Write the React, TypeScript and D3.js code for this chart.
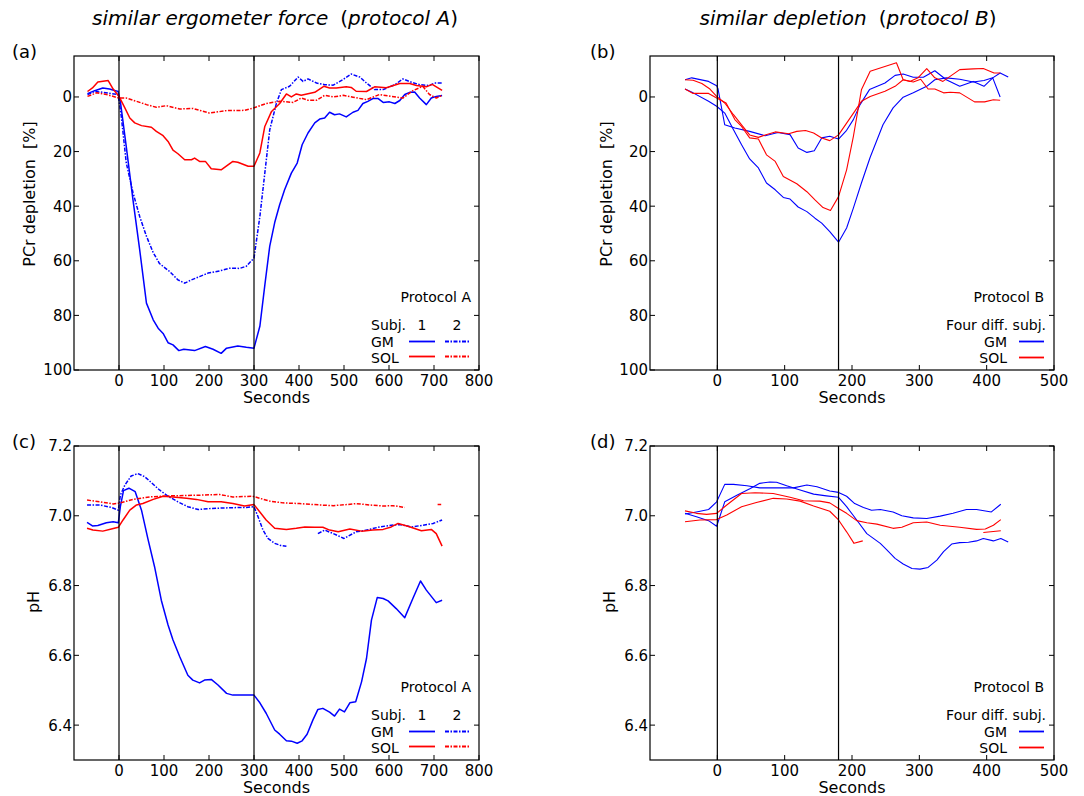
import * as d3 from "d3";

type Pt = [number, number | null];

// ---- PCr depletion [%], protocol A (similar ergometer force) ----
const pcrA_GM1: Pt[] = [[-70,-1.2],[-54,-2.3],[-36,-3.3],[-21,-2.9],[-10,-2.4],[-2,-2],[3,1.6],[16,18],[31,37.6],[46,56],[61,75.5],[76,81.6],[87,84.7],[98,86.6],[109,90],[120,90.8],[133,92.9],[144,92.4],[168,92.9],[192,91.4],[209,92.4],[227,93.9],[239,92],[264,91.2],[283,91.7],[300,92],[313,84],[324,69],[335,54.6],[346,46],[357,39.5],[368,34],[383,27.9],[396,24.2],[407,17.5],[420,13.2],[435,9.5],[446,8.1],[457,7.7],[468,5.6],[479,6.5],[490,6.2],[505,7.3],[520,5.6],[531,4.9],[542,2.4],[553,1.6],[564,0.6],[576,0.6],[587,2],[601,1.8],[613,2.4],[624,1.3],[635,-0.9],[646,-1.7],[657,-1.8],[668,0.4],[683,2.8],[694,0.4],[705,-0.2],[718,-0.5]];
const pcrA_GM2: Pt[] = [[-70,-0.9],[-54,-2],[-36,-1.7],[-17,-1.2],[-2,-0.9],[5,7],[16,24],[31,35],[46,43.8],[61,51],[76,57],[90,61],[113,64],[131,67],[146,68.2],[161,67],[179,65.8],[198,64.5],[224,63.7],[246,62.7],[268,62.8],[283,62],[300,59],[313,43.8],[324,27.9],[335,12],[350,2.2],[361,-2.7],[379,-3.9],[398,-7.3],[409,-5.7],[420,-6.6],[439,-5.1],[457,-4.5],[476,-4.3],[498,-6.4],[516,-8.4],[535,-7.3],[550,-5.1],[568,-2.7],[587,-2.7],[613,-4.5],[631,-6.6],[650,-5.4],[668,-4.5],[690,-4.2],[701,-5.1],[718,-5.1]];
const pcrA_SOL1: Pt[] = [[-70,-2],[-59,-3.3],[-47,-5.5],[-24,-6],[-13,-2.9],[0,-0.2],[13,4],[24,7.7],[35,9.5],[50,10.5],[72,11.1],[83,12.6],[98,14.2],[109,16.3],[120,19.5],[131,20.8],[146,23],[161,23],[168,22.4],[179,23.6],[192,23.6],[205,26.3],[227,26.7],[253,23.6],[264,23.9],[287,25.4],[300,25.4],[313,20.5],[324,10.8],[339,5.3],[357,2.4],[372,-1.1],[383,0],[394,-1.1],[405,-0.6],[420,-1.2],[435,-1.7],[455,-3.9],[468,-3.3],[483,-3.3],[505,-3.7],[516,-3.5],[527,-2.1],[550,-2],[568,-3.7],[594,-3.4],[624,-4.9],[646,-4.9],[661,-4.2],[683,-3.7],[696,-4.6],[718,-2.4]];
const pcrA_SOL2: Pt[] = [[-70,-0.2],[-50,-1.5],[-28,-0.9],[0,0.4],[16,0.4],[39,1.6],[61,2.8],[83,3.8],[105,3.2],[135,4.4],[164,4.2],[201,5.9],[239,5],[279,4.9],[300,4],[327,2.4],[357,1.6],[387,2],[405,0.4],[420,1.2],[439,1.2],[457,-0.6],[476,0],[498,-0.6],[520,0.1],[550,1],[579,-0.9],[605,-0.2],[631,0.4],[653,-2.3],[675,-3.9],[690,-0.9],[705,0.4],[718,-0.6]];

// ---- PCr depletion [%], protocol B (similar depletion) ----
const pcrB_GM1: Pt[] = [[-48,-6.3],[-38,-7],[-13,-5.7],[-1,-4.1],[1,-3],[11,10.2],[26,11.4],[48,12.6],[71,14.2],[90,13],[108,13.8],[120,18.7],[133,20.3],[144,19.7],[155,15],[167,14.4],[180,15.4],[192,12.2],[202,8.3],[212,2.8],[226,-2.7],[249,-5.1],[264,-7.9],[276,-8.4],[291,-7.2],[306,-7.2],[323,-9.6],[340,-6.3],[360,-3.9],[380,-5.7],[396,-3.9],[409,-7],[420,0]];
const pcrB_GM2: Pt[] = [[-48,-2.9],[-36,-1.5],[-13,1.6],[-1,3.4],[11,5.9],[24,12],[36,17.5],[48,22.7],[61,26],[73,31.5],[86,34],[98,36.8],[108,37.4],[120,40.3],[133,42],[145,44.4],[155,46.2],[167,49.3],[180,53.2],[192,48],[202,40.7],[214,31.5],[227,22.1],[246,10.2],[261,4],[276,0.1],[291,-1.5],[311,-3.9],[323,-6.3],[340,-7],[360,-6.5],[380,-5.5],[396,-6],[409,-7],[420,-8.8],[432,-7.3]];
const pcrB_SOL1: Pt[] = [[-48,-6.3],[-36,-6.1],[-23,-4.9],[-11,-2.9],[-1,-0.2],[11,2.2],[24,6.5],[36,10.2],[48,13.9],[61,14.8],[71,13.9],[86,12.8],[106,13.5],[118,12.6],[131,12.3],[143,13.2],[155,15],[167,16],[180,13.9],[192,9.6],[204,5.3],[214,1.6],[227,-0.2],[249,-2.1],[264,-3.9],[276,-6.3],[286,-5.7],[298,-7],[311,-10.4],[323,-7],[335,-5.7],[360,-10],[380,-10.3],[395,-10.4],[411,-8.8],[420,-8.8]];
const pcrB_SOL2: Pt[] = [[-48,-2.9],[-36,-1.3],[-13,-1.3],[-1,0.4],[13,2.2],[26,8.3],[36,10.8],[48,15],[61,15.4],[73,21.2],[86,23.6],[98,29.1],[118,31.8],[133,34.7],[145,37.7],[157,40.5],[168,41.6],[180,36.5],[192,26.7],[202,14.5],[214,-2.6],[227,-9.4],[266,-12.5],[276,-6.3],[291,-5.5],[302,-6.5],[313,-2.9],[323,-2.9],[336,-1.5],[346,-1.7],[360,-1.5],[382,1.8],[397,1.8],[410,1],[420,1.2]];

// ---- pH, protocol A ----
const phA_GM1: Pt[] = [[-71,6.981],[-59,6.971],[-47,6.972],[-28,6.98],[-13,6.983],[-1.5,6.98],[3,7.026],[10,7.072],[22,7.079],[36,7.069],[50,7.016],[64,6.935],[79,6.854],[94,6.758],[109,6.687],[120,6.644],[135,6.596],[153,6.543],[164,6.529],[179,6.521],[190,6.529],[205,6.531],[220,6.515],[239,6.491],[253,6.486],[300,6.486],[313,6.464],[327,6.434],[346,6.386],[357,6.374],[372,6.355],[383,6.354],[396,6.348],[407,6.355],[418,6.374],[431,6.415],[442,6.445],[453,6.448],[468,6.437],[479,6.426],[490,6.446],[501,6.438],[513,6.464],[526,6.467],[539,6.524],[550,6.591],[561,6.701],[574,6.766],[587,6.763],[598,6.756],[616,6.734],[635,6.708],[653,6.763],[670,6.813],[683,6.787],[705,6.751],[718,6.758]];
const phA_GM2: Pt[] = [[-71,7.031],[-43,7.031],[-17,7.024],[-1.5,7.016],[3,7.059],[13,7.088],[27,7.114],[42,7.121],[57,7.112],[72,7.095],[90,7.074],[109,7.056],[131,7.04],[153,7.026],[176,7.018],[205,7.021],[246,7.023],[283,7.024],[300,7.026],[309,6.997],[320,6.959],[331,6.935],[346,6.921],[359,6.915],[372,6.913],[405,null],[442,6.949],[457,6.959],[476,6.949],[500,6.935],[527,6.954],[550,6.959],[579,6.968],[605,6.973],[624,6.975],[650,6.968],[676,6.973],[698,6.978],[718,6.988]];
const phA_SOL1: Pt[] = [[-71,6.964],[-58,6.959],[-36,6.956],[-17,6.962],[-1.5,6.967],[9,6.988],[24,7.016],[39,7.031],[53,7.035],[76,7.047],[98,7.056],[120,7.054],[150,7.05],[172,7.047],[198,7.04],[227,7.04],[253,7.035],[279,7.028],[300,7.032],[313,7.011],[327,6.988],[346,6.964],[372,6.961],[394,6.964],[413,6.968],[435,6.967],[453,6.967],[468,6.959],[487,6.954],[513,6.962],[539,6.956],[564,6.959],[587,6.961],[605,6.968],[620,6.978],[642,6.97],[672,6.957],[694,6.961],[705,6.949],[718,6.913]];
const phA_SOL2: Pt[] = [[-71,7.045],[-43,7.04],[-13,7.034],[0,7.036],[31,7.047],[68,7.054],[113,7.057],[179,7.059],[224,7.061],[253,7.054],[297,7.056],[335,7.042],[364,7.037],[401,7.035],[446,7.031],[476,7.029],[505,7.032],[527,7.035],[557,7.031],[587,7.028],[609,7.029],[635,7.024],[670,null],[708,7.032],[716,7.032]];

// ---- pH, protocol B ----
const phB_GM1: Pt[] = [[-48,7.005],[-31,7.011],[-13,7.018],[-1,7.04],[11,7.09],[24,7.09],[44,7.086],[63,7.08],[93,7.08],[113,7.08],[133,7.088],[148,7.083],[167,7.071],[180,7.067],[192,7.056],[204,7.035],[217,7.024],[229,7.016],[242,7.018],[261,7.011],[274,7],[291,6.994],[311,6.992],[331,6.999],[350,7.007],[370,7.018],[385,7.018],[407,7.011],[421,7.033]];
const phB_GM2: Pt[] = [[-48,7.007],[-31,6.997],[-13,6.986],[-1,6.97],[11,7.04],[29,7.059],[49,7.078],[63,7.093],[78,7.097],[88,7.096],[103,7.086],[123,7.074],[143,7.062],[162,7.057],[180,7.053],[192,7.026],[207,6.988],[222,6.949],[242,6.921],[251,6.904],[264,6.878],[276,6.862],[289,6.849],[301,6.847],[313,6.852],[326,6.873],[336,6.897],[348,6.919],[360,6.923],[373,6.924],[385,6.928],[395,6.935],[410,6.928],[421,6.935],[432,6.925]];
const phB_SOL1: Pt[] = [[-48,7.014],[-31,7.007],[-16,7.004],[-1,7.007],[14,7.031],[36,7.064],[56,7.066],[83,7.064],[108,7.053],[128,7.043],[152,7.042],[167,7.037],[180,7.021],[192,7.007],[207,6.986],[222,6.98],[237,6.976],[261,6.964],[274,6.967],[291,6.98],[311,6.982],[331,6.973],[360,6.967],[385,6.961],[398,6.962],[410,6.973],[421,6.989]];
const phB_SOL2: Pt[] = [[-48,6.983],[-26,6.988],[-1,6.989],[14,7.002],[36,7.026],[58,7.038],[83,7.05],[103,7.048],[123,7.042],[143,7.028],[167,7.013],[180,6.988],[192,6.954],[203,6.921],[216,6.928],[300,null],[395,6.952],[421,6.957]];

const pcrTicks = [0, 20, 40, 60, 80, 100];
const phTicks = [6.4, 6.6, 6.8, 7.0, 7.2];
const secTicksA = [0, 100, 200, 300, 400, 500, 600, 700, 800];
const secTicksB = [0, 100, 200, 300, 400, 500];

const BLUE = "#0000ff";
const RED = "#ff0000";
const DASHDOT = "4,1.5,1.5,1.5";
const FONT = "DejaVu Sans";

type Series = { data: Pt[]; color: string; dash?: string };

function Panel(props: {
  x0: number; x1: number; y0: number; y1: number;
  xDomain: [number, number]; yDomain: [number, number]; invertY: boolean;
  xTicks: number[]; yTicks: number[]; yFmt: (v: number) => string;
  marks: number[]; series: Series[]; lw: number;
  yLabel: string; yLabelX: number; yLabelY: number;
  letter: string; letterX: number; letterY: number;
}) {
  const { x0, x1, y0, y1 } = props;
  const x = d3.scaleLinear().domain(props.xDomain).range([x0, x1]);
  const y = d3.scaleLinear().domain(props.yDomain).range(props.invertY ? [y0, y1] : [y1, y0]);
  const line = d3.line<Pt>()
    .defined(d => d[1] !== null)
    .x(d => x(d[0]))
    .y(d => y(d[1] as number));
  const tl = 5;
  return (
    <g>
      {props.series.map((s, i) => (
        <path key={i} d={line(s.data) || ""} fill="none" stroke={s.color}
          strokeWidth={props.lw} strokeDasharray={s.dash} strokeLinejoin="round" />
      ))}
      {props.marks.map(m => (
        <line key={m} x1={x(m)} x2={x(m)} y1={y0} y2={y1} stroke="#000" strokeWidth={1.2} />
      ))}
      <rect x={x0} y={y0} width={x1 - x0} height={y1 - y0} fill="none" stroke="#000" strokeWidth={1.2} />
      {props.xTicks.map(t => (
        <g key={"x" + t}>
          <line x1={x(t)} x2={x(t)} y1={y1} y2={y1 - tl} stroke="#000" />
          <line x1={x(t)} x2={x(t)} y1={y0} y2={y0 + tl} stroke="#000" />
          <text x={x(t)} y={y1 + 16} textAnchor="middle" fontSize={15}>{t}</text>
        </g>
      ))}
      {props.yTicks.map(t => (
        <g key={"y" + t}>
          <line x1={x0} x2={x0 + tl} y1={y(t)} y2={y(t)} stroke="#000" />
          <line x1={x1} x2={x1 - tl} y1={y(t)} y2={y(t)} stroke="#000" />
          <text x={x0 - 2} y={y(t)} dy="0.36em" textAnchor="end" fontSize={15}>{props.yFmt(t)}</text>
        </g>
      ))}
      <text x={(x0 + x1) / 2} y={y1 + 33} textAnchor="middle" fontSize={16}>Seconds</text>
      <text transform={`translate(${props.yLabelX},${props.yLabelY}) rotate(-90)`} textAnchor="middle"
        fontSize={16} style={{ whiteSpace: "pre" }}>{props.yLabel}</text>
      <text x={props.letterX} y={props.letterY} fontSize={18}>{props.letter}</text>
    </g>
  );
}

function LegendA({ x1, y1 }: { x1: number; y1: number }) {
  return (
    <g fontSize={14}>
      <text x={x1 - 8} y={y1 - 68} textAnchor="end">Protocol A</text>
      <text x={x1 - 108} y={y1 - 40}>Subj.</text>
      <text x={x1 - 57} y={y1 - 40} textAnchor="middle">1</text>
      <text x={x1 - 22} y={y1 - 40} textAnchor="middle">2</text>
      <text x={x1 - 108} y={y1 - 23}>GM</text>
      <text x={x1 - 108} y={y1 - 7}>SOL</text>
      <line x1={x1 - 70} x2={x1 - 44} y1={y1 - 28.5} y2={y1 - 28.5} stroke={BLUE} strokeWidth={1.8} />
      <line x1={x1 - 34} x2={x1 - 9} y1={y1 - 28.5} y2={y1 - 28.5} stroke={BLUE} strokeWidth={1.8} strokeDasharray={DASHDOT} />
      <line x1={x1 - 70} x2={x1 - 44} y1={y1 - 13.5} y2={y1 - 13.5} stroke={RED} strokeWidth={1.8} />
      <line x1={x1 - 34} x2={x1 - 9} y1={y1 - 13.5} y2={y1 - 13.5} stroke={RED} strokeWidth={1.8} strokeDasharray={DASHDOT} />
    </g>
  );
}

function LegendB({ x1, y1 }: { x1: number; y1: number }) {
  return (
    <g fontSize={14}>
      <text x={x1 - 10} y={y1 - 68} textAnchor="end">Protocol B</text>
      <text x={x1 - 8} y={y1 - 40} textAnchor="end">Four diff. subj.</text>
      <text x={x1 - 47} y={y1 - 23} textAnchor="end">GM</text>
      <text x={x1 - 47} y={y1 - 7} textAnchor="end">SOL</text>
      <line x1={x1 - 35} x2={x1 - 10} y1={y1 - 28.5} y2={y1 - 28.5} stroke={BLUE} strokeWidth={1.8} />
      <line x1={x1 - 35} x2={x1 - 10} y1={y1 - 12.5} y2={y1 - 12.5} stroke={RED} strokeWidth={1.8} />
    </g>
  );
}

function Title({ cx, main, proto }: { cx: number; main: string; proto: string }) {
  return (
    <text x={cx} y={25} textAnchor="middle" fontSize={20}>
      <tspan fontStyle="italic">{main}</tspan>
      <tspan dx={12}>(</tspan>
      <tspan fontStyle="italic">{proto}</tspan>
      <tspan>)</tspan>
    </text>
  );
}

export default function App() {
  const fmtInt = d3.format("d");
  const fmtPh = d3.format(".1f");
  const A = { x0: 74, x1: 479 };
  const B = { x0: 650, x1: 1054 };
  const top = { y0: 56, y1: 370 };
  const bot = { y0: 446, y1: 760 };
  return (
    <svg width={1084} height={796} fontFamily={FONT}
      style={{ position: "absolute", left: 0, top: 0, background: "#fff" }}>
      <rect width={1084} height={796} fill="#fff" />
      <Title cx={275} main="similar ergometer force" proto="protocol A" />
      <Title cx={848} main="similar depletion" proto="protocol B" />

      <Panel {...A} {...top} xDomain={[-100, 800]} yDomain={[-15, 100]} invertY
        xTicks={secTicksA} yTicks={pcrTicks} yFmt={fmtInt} marks={[0, 300]} lw={1.5}
        series={[
          { data: pcrA_GM1, color: BLUE },
          { data: pcrA_GM2, color: BLUE, dash: DASHDOT },
          { data: pcrA_SOL1, color: RED },
          { data: pcrA_SOL2, color: RED, dash: DASHDOT },
        ]}
        yLabel="PCr depletion  [%]" yLabelX={35} yLabelY={194} letter="(a)" letterX={12} letterY={58} />
      <LegendA x1={A.x1} y1={top.y1} />

      <Panel {...B} {...top} xDomain={[-100, 500]} yDomain={[-15, 100]} invertY
        xTicks={secTicksB} yTicks={pcrTicks} yFmt={fmtInt} marks={[0, 180]} lw={1.1}
        series={[
          { data: pcrB_GM1, color: BLUE },
          { data: pcrB_GM2, color: BLUE },
          { data: pcrB_SOL1, color: RED },
          { data: pcrB_SOL2, color: RED },
        ]}
        yLabel="PCr depletion  [%]" yLabelX={612} yLabelY={194} letter="(b)" letterX={590} letterY={58} />
      <LegendB x1={B.x1} y1={top.y1} />

      <Panel {...A} {...bot} xDomain={[-100, 800]} yDomain={[6.3, 7.2]} invertY={false}
        xTicks={secTicksA} yTicks={phTicks} yFmt={fmtPh} marks={[0, 300]} lw={1.5}
        series={[
          { data: phA_GM1, color: BLUE },
          { data: phA_GM2, color: BLUE, dash: DASHDOT },
          { data: phA_SOL1, color: RED },
          { data: phA_SOL2, color: RED, dash: DASHDOT },
        ]}
        yLabel="pH" yLabelX={39} yLabelY={602} letter="(c)" letterX={12} letterY={448} />
      <LegendA x1={A.x1} y1={bot.y1} />

      <Panel {...B} {...bot} xDomain={[-100, 500]} yDomain={[6.3, 7.2]} invertY={false}
        xTicks={secTicksB} yTicks={phTicks} yFmt={fmtPh} marks={[0, 180]} lw={1.1}
        series={[
          { data: phB_GM1, color: BLUE },
          { data: phB_GM2, color: BLUE },
          { data: phB_SOL1, color: RED },
          { data: phB_SOL2, color: RED },
        ]}
        yLabel="pH" yLabelX={615} yLabelY={602} letter="(d)" letterX={590} letterY={448} />
      <LegendB x1={B.x1} y1={bot.y1} />
    </svg>
  );
}
